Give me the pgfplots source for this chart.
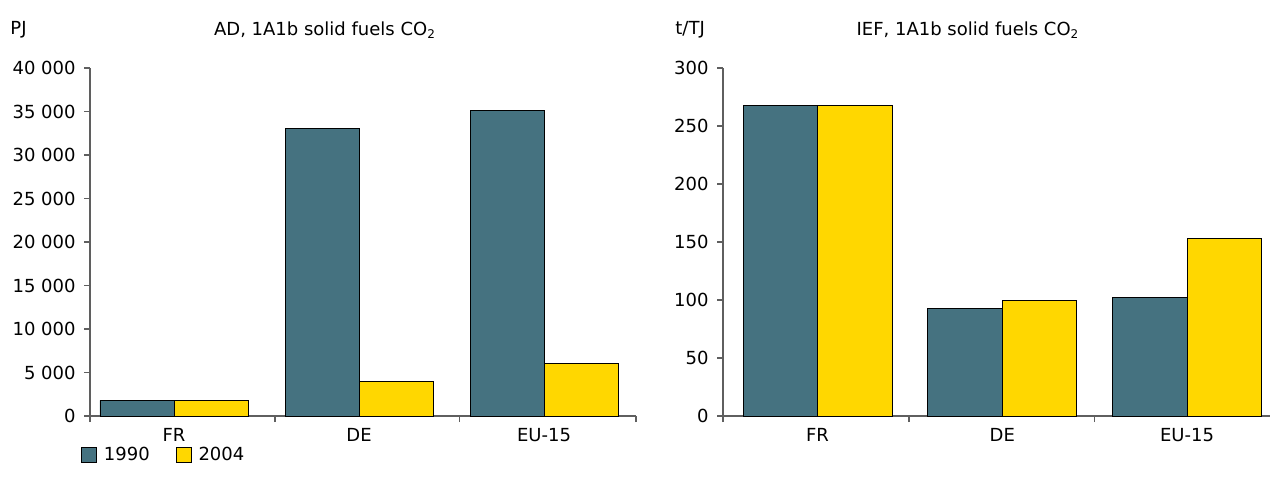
\documentclass[border=0pt]{standalone}
\usepackage{fontspec}
\setmainfont{DejaVu Sans}
\usepackage{pgfplots}
\pgfplotsset{compat=1.18}
\definecolor{teal1}{RGB}{69,114,128}
\definecolor{gold1}{RGB}{255,215,0}
\definecolor{axgray}{RGB}{95,95,95}
\pgfplotsset{
  mybar/.style={
    scale only axis,
    axis x line*=bottom, axis y line*=left,
    ymin=0, ybar=0pt,
    scaled y ticks=false,
    axis line style={axgray, line width=0.7pt},
    every tick/.style={draw=axgray, line width=0.6pt},
    tick align=outside,
    major tick length=3pt,
    xticklabels={},
    extra x ticks={0,1,2},
    extra x tick labels={FR,DE,EU-15},
    extra x tick style={major tick length=0pt, xticklabel style={yshift=-3pt}},
    yticklabel style={xshift=-1pt},
    clip=false,
    font=\fontsize{9pt}{11pt}\selectfont,
  },
  /pgfplots/area legend/.style={legend image code/.code={\draw[##1] (0pt,-3.75pt) rectangle (7.5pt,3.75pt);}}
}
\begin{document}
\fontsize{9pt}{11pt}\selectfont
\begin{tikzpicture}
\useasboundingbox (0pt,0pt) rectangle (635pt,-243pt);
% left chart
\begin{axis}[mybar,
  at={(45pt,-208pt)}, anchor=south west,
  width=273pt, height=174pt,
  xmin=-0.454, xmax=2.497,
  ymax=40000,
  bar width=37pt,
  xtick={-0.454,0.546,1.541,2.497},
  ytick={0,5000,10000,15000,20000,25000,30000,35000,40000},
  yticklabels={0,5 000,10 000,15 000,20 000,25 000,30 000,35 000,40 000},
  legend columns=2,
  legend style={draw=none, fill=none, at={(-0.017,-0.112)}, anchor=west,
    font=\fontsize{9pt}{11pt}\selectfont,
    /tikz/every odd column/.append style={column sep=3.5pt},
    /tikz/every even column/.append style={column sep=13pt},
    inner sep=0pt, nodes={inner sep=0pt}},
]
\addplot[fill=teal1, draw=black, line width=0.4pt, area legend] coordinates {(0,1800) (1,33100) (2,35100)};
\addplot[fill=gold1, draw=black, line width=0.4pt, area legend] coordinates {(0,1800) (1,4000) (2,6000)};
\legend{1990,2004}
\end{axis}
% right chart
\begin{axis}[mybar,
  at={(361.5pt,-208pt)}, anchor=south west,
  width=278.5pt, height=174pt,
  xmin=-0.5115, xmax=2.503,
  ymax=300,
  bar width=37.25pt,
  xtick={-0.5115,0.495,1.497},
  ytick={0,50,100,150,200,250,300},
  yticklabels={0,50,100,150,200,250,300},
]
\addplot[fill=teal1, draw=black, line width=0.4pt] coordinates {(0,268) (1,93) (2,102.5)};
\addplot[fill=gold1, draw=black, line width=0.4pt] coordinates {(0,268) (1,100) (2,153)};
\end{axis}
% titles
\node[anchor=west, inner sep=0pt] at (5pt,-15pt) {PJ};
\node[inner sep=0pt] at (162.5pt,-15pt) {AD, 1A1b solid fuels CO\textsubscript{2}};
\node[anchor=west, inner sep=0pt] at (337.5pt,-15pt) {t/TJ};
\node[inner sep=0pt] at (484pt,-15pt) {IEF, 1A1b solid fuels CO\textsubscript{2}};
\end{tikzpicture}
\end{document}
